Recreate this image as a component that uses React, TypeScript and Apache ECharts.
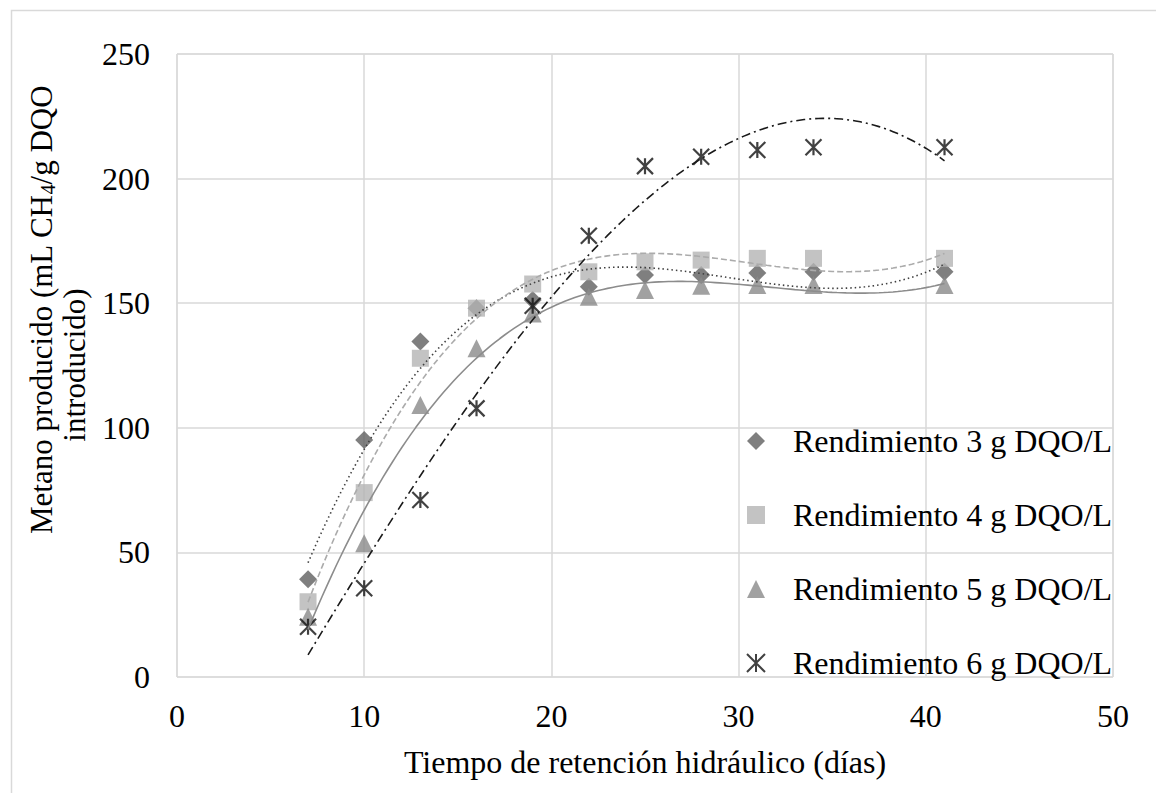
import React, { useEffect, useRef } from "react";
import * as echarts from "echarts";

const X_DAYS = [7, 10, 13, 16, 19, 22, 25, 28, 31, 34, 41];
const S3_VALUES = [39.2, 95.1, 134.6, 148, 151.3, 156.6, 161.3, 161.3, 162.1, 162.6, 162.6];
const S4_VALUES = [30.2, 74, 127.9, 148, 157.7, 162.6, 166.6, 167.3, 168, 168, 168];
const S5_VALUES = [24.2, 53.7, 109.1, 131.9, 145.9, 152.6, 155.3, 157, 157.3, 157.3, 157.3];
const S6_VALUES = [20.2, 35.6, 71, 107.8, 149, 177.1, 205, 208.8, 211.5, 212.6, 212.6];
const SERIES_NAMES = [
  "Rendimiento 3 g DQO/L",
  "Rendimiento 4 g DQO/L",
  "Rendimiento 5 g DQO/L",
  "Rendimiento 6 g DQO/L",
];
const X_TICKS = [0, 10, 20, 30, 40, 50];
const Y_TICKS = [0, 50, 100, 150, 200, 250];

const FONT = "'Liberation Serif', 'Times New Roman', serif";
const FS = 32;
const TFS = 31;
const STAR = "path://M0,0L16,16M16,0L0,16M8,0L8,16";

// least squares polynomial (trendline) fit of order n
function polyfit(xs: number[], ys: number[], n: number): number[] {
  const m = n + 1;
  const A: number[][] = [];
  for (let i = 0; i < m; i++) {
    A.push(new Array(m + 1).fill(0));
    for (let j = 0; j < m; j++) {
      let s = 0;
      for (let k = 0; k < xs.length; k++) s += Math.pow(xs[k], i + j);
      A[i][j] = s;
    }
    let t = 0;
    for (let k = 0; k < xs.length; k++) t += ys[k] * Math.pow(xs[k], i);
    A[i][m] = t;
  }
  for (let c = 0; c < m; c++) {
    let p = c;
    for (let r = c + 1; r < m; r++) if (Math.abs(A[r][c]) > Math.abs(A[p][c])) p = r;
    [A[c], A[p]] = [A[p], A[c]];
    for (let r = 0; r < m; r++) {
      if (r === c) continue;
      const f = A[r][c] / A[c][c];
      for (let j = c; j <= m; j++) A[r][j] -= f * A[c][j];
    }
  }
  return A.map((row, i) => row[m] / row[i]);
}

function trend(xs: number[], ys: number[]): number[][] {
  const c = polyfit(xs, ys, 3);
  const out: number[][] = [];
  const x0 = xs[0];
  const x1 = xs[xs.length - 1];
  for (let x = x0; x <= x1 + 1e-9; x += 0.25) {
    let y = 0;
    for (let i = 0; i < c.length; i++) y += c[i] * Math.pow(x, i);
    out.push([x, y]);
  }
  return out;
}

export default function App() {
  const ref = useRef<HTMLDivElement>(null);
  useEffect(() => {
    if (!ref.current) return;
    const chart = echarts.init(ref.current, null, { renderer: "svg" });
    const pts = (ys: number[]) => X_DAYS.map((x, i) => [x, ys[i]]);
    const all = [S3_VALUES, S4_VALUES, S5_VALUES, S6_VALUES];
    const symbols = ["diamond", "rect", "triangle", STAR];
    const sizes: any[] = [18, 17, 18, 16];
    const colors = ["#5f5f5f", "#b4b4b4", "#8a8a8a", "#111111"];
    const lineColors = ["#404040", "#ababab", "#8c8c8c", "#1a1a1a"];
    const lineTypes: any[] = [[1.5, 3], [6, 3], "solid", [9, 4, 2, 4]];

    const scatter = all.map((ys, i) => ({
      name: SERIES_NAMES[i],
      type: "scatter",
      data: pts(ys),
      symbol: symbols[i],
      symbolSize: sizes[i],
      itemStyle:
        i === 3
          ? { color: "transparent", borderColor: colors[i], borderWidth: 2.2 }
          : { color: colors[i] },
      z: 3,
    }));
    const lines = all.map((ys, i) => ({
      name: "trend" + i,
      type: "line",
      data: trend(X_DAYS, ys),
      showSymbol: false,
      symbol: "none",
      lineStyle: { color: lineColors[i], width: 1.6, type: lineTypes[i] },
      z: 4,
    }));

    chart.setOption({
      animation: false,
      backgroundColor: "#ffffff",
      grid: {
        left: 177,
        right: 43,
        top: 54,
        bottom: 116,
        show: true,
        borderColor: "#d9d9d9",
        borderWidth: 1,
      },
      xAxis: {
        type: "value",
        min: X_TICKS[0],
        max: X_TICKS[X_TICKS.length - 1],
        interval: 10,
        axisLine: { show: false },
        axisTick: { show: false },
        splitLine: { lineStyle: { color: "#d9d9d9", width: 1.5 } },
        axisLabel: { fontSize: FS, fontFamily: FONT, color: "#000", margin: 23 },
        name: "Tiempo de retención hidráulico (días)",
        nameLocation: "middle",
        nameGap: 69,
        nameTextStyle: { fontSize: FS, fontFamily: FONT, color: "#000" },
      },
      yAxis: {
        type: "value",
        min: Y_TICKS[0],
        max: Y_TICKS[Y_TICKS.length - 1],
        interval: 50,
        axisLine: { show: false },
        axisTick: { show: false },
        splitLine: { lineStyle: { color: "#d9d9d9", width: 1.5 } },
        axisLabel: { fontSize: FS, fontFamily: FONT, color: "#000", margin: 27 },
      },
      legend: {
        orient: "vertical",
        left: 741,
        top: 420,
        itemGap: 42,
        itemWidth: 18,
        itemHeight: 18,
        selectedMode: false,
        data: SERIES_NAMES,
        textStyle: {
          fontSize: FS,
          fontFamily: FONT,
          color: "#000",
          lineHeight: 32,
          padding: [0, 0, 0, 23],
        },
      },
      graphic: [
        {
          type: "rect",
          shape: { x: 11.5, y: 10.5, width: 1170, height: 800 },
          style: { fill: "none", stroke: "#d9d9d9", lineWidth: 1.5 },
          silent: true,
        },
        {
          type: "text",
          x: 41,
          y: 310,
          rotation: Math.PI / 2,
          style: {
            text: "{n|Metano producido (mL CH}{s|4}{n|/g DQO}",
            align: "center",
            verticalAlign: "middle",
            fill: "#000",
            font: TFS + "px " + FONT,
            rich: {
              n: { fontSize: TFS, fontFamily: FONT, lineHeight: 34, fill: "#000" },
              s: { fontSize: 20, fontFamily: FONT, lineHeight: 18, verticalAlign: "bottom", fill: "#000" },
            },
          },
        },
        {
          type: "text",
          x: 74,
          y: 365,
          rotation: Math.PI / 2,
          style: {
            text: "introducido)",
            align: "center",
            verticalAlign: "middle",
            fill: "#000",
            font: TFS + "px " + FONT,
          },
        },
      ],
      series: [...scatter, ...lines],
    });
    return () => chart.dispose();
  }, []);
  return (
    <div
      ref={ref}
      style={{ position: "fixed", left: 0, top: 0, width: 1156, height: 793 }}
    />
  );
}
